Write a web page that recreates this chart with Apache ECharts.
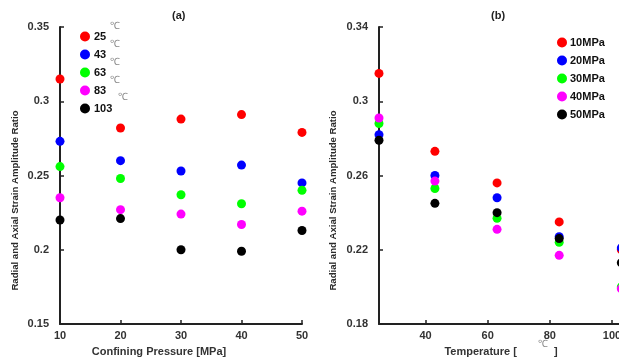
<!DOCTYPE html>
<html>
<head>
<meta charset="utf-8">
<script src="https://cdn.jsdelivr.net/npm/echarts@6/dist/echarts.min.js"></script>
<style>
  html, body { margin: 0; padding: 0; background: #fff; }
  #main { width: 619px; height: 363px; }
</style>
</head>
<body>
<div id="main"></div>
<script>
// temperatures (C) and confining pressures (MPa)
var temps = [25, 43, 63, 83, 103];
var pressures = [10, 20, 30, 40, 50];
// ratio for each temperature, across pressures 10..50 MPa
var ratio25 = [0.315, 0.282, 0.288, 0.291, 0.279];
var ratio43 = [0.273, 0.260, 0.253, 0.257, 0.245];
var ratio63 = [0.256, 0.248, 0.237, 0.231, 0.240];
var ratio83 = [0.235, 0.227, 0.224, 0.217, 0.226];
var ratio103 = [0.220, 0.221, 0.200, 0.199, 0.213];
var ratios = [ratio25, ratio43, ratio63, ratio83, ratio103];

var tempNames = ["25", "43", "63", "83", "103"];
var pressNames = ["10MPa", "20MPa", "30MPa", "40MPa", "50MPa"];
var tempTicks = [40, 60, 80, 100];
var myColor = ["#ff0000", "#0000ff", "#00ff00", "#ff00ff", "#000000"];

var font = "Arial, 'Liberation Sans', sans-serif";
var labelStyle = { color: "#333", fontSize: 11, fontWeight: "bold", fontFamily: font };
var nameStyle = { color: "#2a2a2a", fontSize: 9.6, fontWeight: "bold", fontFamily: font };
var axisLine = { show: true, onZero: false, lineStyle: { color: "#222", width: 2 } };
var tick = { show: true, inside: true, length: 4, lineStyle: { color: "#222", width: 1.5 } };

var series = [];
// (a) ratio vs pressure, one series per temperature
for (var i = 0; i < temps.length; i++) {
    var d = [];
    for (var j = 0; j < pressures.length; j++) {
        d.push([pressures[j], ratios[i][j]]);
    }
    series.push({
        name: tempNames[i], type: "scatter", xAxisIndex: 0, yAxisIndex: 0, clip: false,
        symbolSize: 9, itemStyle: { color: myColor[i], opacity: 1 }, data: d
    });
}
// (b) ratio vs temperature, one series per pressure
for (var j = 0; j < pressures.length; j++) {
    var d2 = [];
    for (var i = 0; i < temps.length; i++) {
        d2.push([temps[i], ratios[i][j]]);
    }
    series.push({
        name: pressNames[j], type: "scatter", xAxisIndex: 1, yAxisIndex: 1, clip: false,
        symbolSize: 9, itemStyle: { color: myColor[j], opacity: 1 }, data: d2
    });
}

var degStyle = { fill: "#888", fontSize: 10, fontFamily: font };
var degText = [];
// little degree marks of the legend in (a)
var degPos = [[110, 21], [110, 39], [110, 57], [110, 75], [118, 92]];
for (var k = 0; k < degPos.length; k++) {
    degText.push({ type: "text", left: degPos[k][0], top: degPos[k][1], style: Object.assign({ text: "℃" }, degStyle) });
}
degText.push({ type: "text", left: 538, top: 339, style: Object.assign({ text: "℃" }, degStyle) });

var myChart = echarts.init(document.getElementById("main"));
var option = {
    animation: false,
    title: [
        { text: "(a)", left: 167, top: 5, textStyle: { fontSize: 11, fontWeight: "bold", color: "#222", fontFamily: font } },
        { text: "(b)", left: 486, top: 5, textStyle: { fontSize: 11, fontWeight: "bold", color: "#222", fontFamily: font } }
    ],
    legend: [
        {
            data: tempNames, orient: "vertical", left: 75, top: 26, itemGap: 7,
            itemWidth: 10, itemHeight: 10, icon: "circle",
            textStyle: { fontSize: 11, fontWeight: "bold", color: "#111", fontFamily: font, padding: [0, 0, 0, -1] }
        },
        {
            data: pressNames, orient: "vertical", left: 552, top: 32, itemGap: 7,
            itemWidth: 10, itemHeight: 10, icon: "circle",
            textStyle: { fontSize: 11, fontWeight: "bold", color: "#111", fontFamily: font, padding: [0, 0, 5, -2] }
        }
    ],
    grid: [
        { left: 60, right: 317, top: 27, bottom: 39, outerBoundsMode: "none" },
        { left: 379, right: 0, top: 27, bottom: 39, outerBoundsMode: "none" }
    ],
    xAxis: [
        {
            type: "value", gridIndex: 0, min: 10, max: 50, interval: 10,
            name: "Confining Pressure [MPa]", nameLocation: "middle", nameGap: 22,
            nameTextStyle: Object.assign({ padding: [0, 44, 0, 0] }, labelStyle),
            axisLine: axisLine, axisTick: tick, splitLine: { show: false },
            axisLabel: Object.assign({ margin: 6 }, labelStyle)
        },
        {
            type: "value", gridIndex: 1, min: 25, max: 102.25,
            name: "{a|Temperature [}{s|}{a|]}", nameLocation: "middle", nameGap: 22,
            nameTextStyle: {
                padding: [0, 0, 0, 4],
                rich: {
                    a: labelStyle,
                    s: { width: 37 }
                }
            },
            axisLine: axisLine,
            axisTick: Object.assign({ customValues: tempTicks }, tick),
            splitLine: { show: false },
            axisLabel: Object.assign({ margin: 6, customValues: tempTicks }, labelStyle)
        }
    ],
    yAxis: [
        {
            type: "value", gridIndex: 0, min: 0.15, max: 0.35, interval: 0.05,
            name: "Radial and Axial Strain Amplitude Ratio", nameLocation: "middle", nameGap: 40,
            nameTextStyle: Object.assign({ padding: [0, 50, 0, 0] }, nameStyle),
            axisLine: axisLine, axisTick: tick, splitLine: { show: false },
            axisLabel: Object.assign({ margin: 11 }, labelStyle)
        },
        {
            type: "value", gridIndex: 1, min: 0.18, max: 0.34, interval: 0.04,
            name: "Radial and Axial Strain Amplitude Ratio", nameLocation: "middle", nameGap: 41,
            nameTextStyle: Object.assign({ padding: [0, 50, 0, 0] }, nameStyle),
            axisLine: axisLine, axisTick: tick, splitLine: { show: false },
            axisLabel: Object.assign({ margin: 11 }, labelStyle)
        }
    ],
    graphic: degText,
    series: series
};
myChart.setOption(option);
</script>
</body>
</html>
